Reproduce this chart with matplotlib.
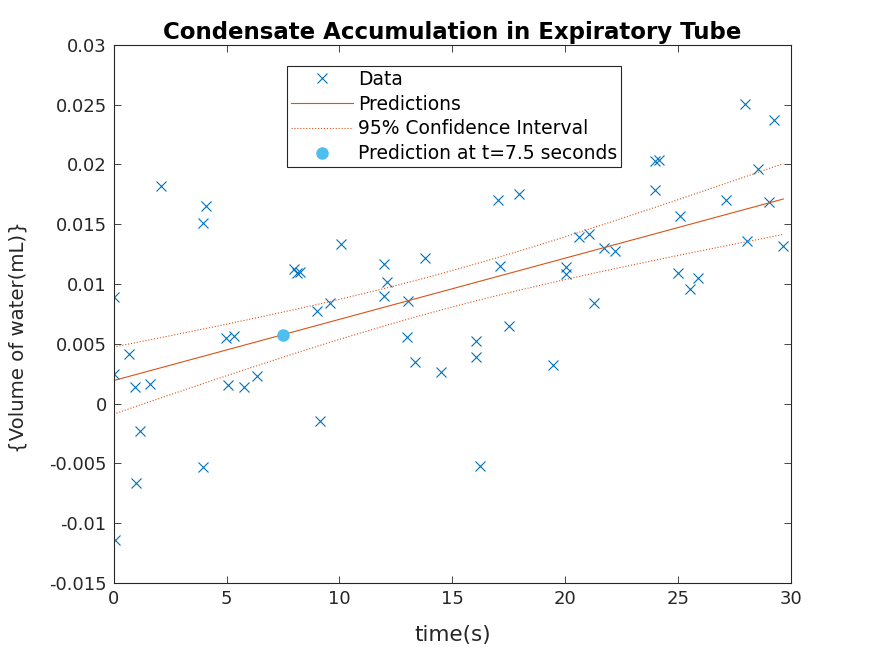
import numpy as np
import matplotlib.pyplot as plt
from matplotlib.ticker import FuncFormatter

# measured condensate volume vs time
t = [0.0, 0.0, 0.04, 0.68, 0.95, 1.0, 1.15, 1.6, 2.11, 3.96, 3.96, 4.1, 4.99, 5.07,
     5.33, 5.78, 6.35, 7.99, 8.1, 8.26, 9.01, 9.13, 9.57, 10.05, 11.99, 11.99, 12.11,
     13.0, 13.04, 13.35, 13.8, 14.5, 16.03, 16.03, 16.23, 17.03, 17.12, 17.52, 17.96,
     19.47, 20.02, 20.03, 20.61, 21.06, 21.28, 21.71, 22.21, 23.97, 23.99, 24.15,
     25.0, 25.09, 25.51, 25.89, 27.13, 27.98, 28.06, 28.52, 29.04, 29.23, 29.66]
vol = [0.00895, 0.00246, -0.0114, 0.00416, 0.00137, -0.0066, -0.00226, 0.00165, 0.0182,
       0.01514, -0.00532, 0.01653, 0.00552, 0.00156, 0.00569, 0.00137, 0.00232, 0.01124,
       0.01096, 0.01104, 0.00778, -0.00145, 0.00845, 0.01336, 0.01168, 0.00901, 0.01018,
       0.0056, 0.00862, 0.00351, 0.01221, 0.00268, 0.00524, 0.00393, -0.00519, 0.01704,
       0.01152, 0.00652, 0.01751, 0.00324, 0.01146, 0.01082, 0.01397, 0.01417, 0.00845,
       0.01302, 0.0128, 0.0203, 0.01787, 0.02039, 0.01096, 0.01573, 0.0096, 0.01054,
       0.01704, 0.02504, 0.01364, 0.01963, 0.0169, 0.02373, 0.01317]
t_query = 7.5

x = np.array(t)
y = np.array(vol)
n = len(x)

# least squares fit + 95% CI on the mean
b1, b0 = np.polyfit(x, y, 1)
yhat = b0 + b1 * x
s = np.sqrt(np.sum((y - yhat) ** 2) / (n - 2))
sxx = np.sum((x - x.mean()) ** 2)
tcrit = 2.001
hw = tcrit * s * np.sqrt(1.0 / n + (x - x.mean()) ** 2 / sxx)
y_query = b0 + b1 * t_query

blue = '#0072BD'
orange = '#D95319'
light = '#4DBEEE'
dark = '#262626'

fig = plt.figure(figsize=(8.74, 6.55), dpi=100)
ax = fig.add_axes([0.13, 0.11, 0.775, 0.8214])

ax.plot(x, y, 'x', color=blue, markersize=7, markeredgewidth=0.8, label='Data')
ax.plot(x, yhat, '-', color=orange, linewidth=0.8, label='Predictions')
ax.plot(x, yhat + hw, ':', color=orange, linewidth=0.8, label='95% Confidence Interval')
ax.plot(x, yhat - hw, ':', color=orange, linewidth=0.8)
ax.plot([t_query], [y_query], 'o', color=light, markersize=8,
        label='Prediction at t=7.5 seconds')

ax.set_xlim(0, 30)
ax.set_ylim(-0.015, 0.03)
ax.set_xticks(np.arange(0, 31, 5))
ax.set_yticks(np.arange(-0.015, 0.0301, 0.005))
ax.yaxis.set_major_formatter(FuncFormatter(lambda v, p: '%g' % round(v, 4)))
ax.tick_params(direction='in', top=True, right=True, labelsize=13, length=5,
               width=0.6, colors=dark, pad=5)
for sp in ax.spines.values():
    sp.set_linewidth(0.8)
    sp.set_color(dark)

ax.set_title('Condensate Accumulation in Expiratory Tube', fontsize=16.5,
             fontweight='bold', pad=4)
ax.set_xlabel('time(s)', fontsize=15.5, color=dark)
ax.set_ylabel('{Volume of water(mL)}', fontsize=14.2, color=dark)
ax.xaxis.set_label_coords(0.5, -0.078)
ax.yaxis.set_label_coords(-0.127, 0.457)

leg = ax.legend(loc='upper left', bbox_to_anchor=(287 / 874, 1 - 66 / 655),
                bbox_transform=fig.transFigure, fontsize=13.5, fancybox=False,
                edgecolor=dark, framealpha=1, borderaxespad=0,
                handlelength=3.3, handletextpad=0.3, labelspacing=0.31,
                borderpad=0.2)
leg.get_frame().set_linewidth(0.8)

fig.savefig('out.png', dpi=100)
